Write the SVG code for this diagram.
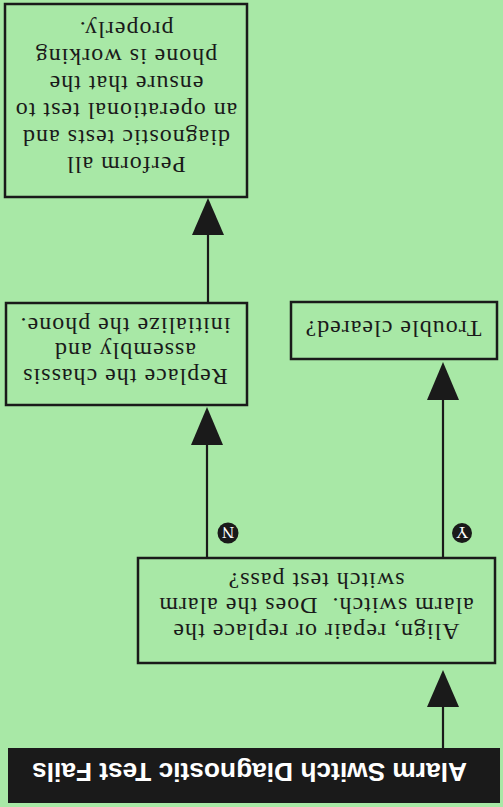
<svg xmlns="http://www.w3.org/2000/svg" width="503" height="807" viewBox="0 0 503 807">
<style>
.box{fill:#a8e8a6;stroke:#1a1a1a;stroke-width:2.5}
.t{font-family:"Liberation Serif","Times New Roman",serif;font-size:24px;letter-spacing:1px;fill:#1a1a1a;text-anchor:middle}
.ln{stroke:#1a1a1a;stroke-width:2.2;fill:none}
.ah{fill:#1a1a1a}
.badge{fill:#1a1a1a}
.bt{font-family:"Liberation Serif",serif;font-size:17px;fill:#ffffff;text-anchor:middle}
</style>
<rect width="503" height="807" fill="#a8e8a6"/>
<g transform="rotate(180 251.5 403.5)">
<g id="start">
<rect x="3" y="4" width="492" height="55" fill="#1a1a1a"/>
<text x="36" y="44" font-family="Liberation Sans, Arial, sans-serif" font-size="26" font-weight="bold" fill="#ffffff" textLength="435" lengthAdjust="spacingAndGlyphs">Alarm Switch Diagnostic Test Fails</text>
</g>
<g id="align">
<rect class="box" x="8" y="144" width="357" height="105"/>
<text class="t" x="187" y="183">Align, repair or replace the</text>
<text class="t" x="187" y="209" xml:space="preserve">alarm switch.  Does the alarm</text>
<text class="t" x="187" y="234">switch test pass?</text>
</g>
<g id="trouble">
<rect class="box" x="6" y="448" width="206" height="57"/>
<text class="t" x="110" y="486">Trouble cleared?</text>
</g>
<g id="replace">
<rect class="box" x="256" y="402" width="241" height="102"/>
<text class="t" x="378" y="438">Replace the chassis</text>
<text class="t" x="378" y="464">assembly and</text>
<text class="t" x="378" y="489">initialize the phone.</text>
</g>
<g id="perform">
<rect class="box" x="256" y="610" width="242" height="193"/>
<text class="t" x="377" y="650">Perform all</text>
<text class="t" x="377" y="677">diagnostic tests and</text>
<text class="t" x="377" y="704">an operational test to</text>
<text class="t" x="377" y="731">ensure that the</text>
<text class="t" x="377" y="758">phone is working</text>
<text class="t" x="377" y="785">properly.</text>
</g>
<g id="connectors">
<line class="ln" x1="60" y1="59" x2="60" y2="102"/>
<polygon class="ah" points="60,137 44,100 76,100"/>
<line class="ln" x1="60" y1="249" x2="60" y2="409"/>
<polygon class="ah" points="60,445 44,407 76,407"/>
<line class="ln" x1="296" y1="249" x2="296" y2="364"/>
<polygon class="ah" points="296,400 280,362 312,362"/>
<line class="ln" x1="295" y1="504" x2="295" y2="574"/>
<polygon class="ah" points="295,609 279,572 311,572"/>
<g id="badge-y">
<circle class="badge" cx="41" cy="274" r="10"/>
<text class="bt" x="41" y="280">Y</text>
</g>
<g id="badge-n">
<circle class="badge" cx="275" cy="274" r="10.5"/>
<text class="bt" x="275" y="280">N</text>
</g>
</g>
</g>
</svg>
